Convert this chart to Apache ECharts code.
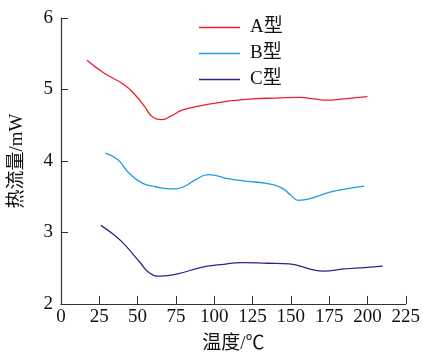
<!DOCTYPE html>
<html>
<head>
<meta charset="utf-8">
<title></title>
<script src="https://cdn.jsdelivr.net/npm/echarts@6/dist/echarts.min.js"></script>
<style>
  html, body { margin: 0; padding: 0; background: #fff; }
  #container { width: 423px; height: 359px; }
</style>
</head>
<body>
<div id="container"></div>
<script>
    // 温度 (℃) / 热流量 (mW)
    var tempA = [17, 28, 41, 49, 55, 59, 66, 72, 79, 93, 104, 110, 125, 140, 156, 165, 173, 185, 200];
    var heatA = [5.41, 5.23, 5.07, 4.91, 4.75, 4.63, 4.58, 4.63, 4.71, 4.78, 4.82, 4.84, 4.87, 4.88, 4.89, 4.87, 4.85, 4.87, 4.90];

    var tempB = [29, 37, 44, 53, 62, 72, 80, 88, 96, 110, 120, 136, 145, 150, 155, 162, 175, 186, 198];
    var heatB = [4.11, 4.02, 3.84, 3.69, 3.64, 3.61, 3.64, 3.74, 3.81, 3.75, 3.72, 3.68, 3.61, 3.52, 3.45, 3.47, 3.56, 3.61, 3.65];

    var tempC = [26, 35, 42, 52, 58, 65, 76, 91, 104, 118, 135, 149, 156, 164, 171, 185, 198, 210];
    var heatC = [3.10, 2.96, 2.82, 2.57, 2.43, 2.39, 2.42, 2.51, 2.55, 2.58, 2.57, 2.56, 2.53, 2.48, 2.46, 2.49, 2.51, 2.53];

    var names = ['A型', 'B型', 'C型'];
    var colors = ['#e8212b', '#1c9fdc', '#28288c'];

    function pairs(xs, ys) {
        var out = [];
        for (let i = 0; i < xs.length; i++) {
            out.push([xs[i], ys[i]]);
        }
        return out;
    }

    var font = '"Liberation Serif", "Times New Roman", "Noto Sans CJK SC", serif';
    var txt = '#111';
    var dom = document.getElementById('container');
    var myChart = echarts.init(dom, null, { renderer: 'canvas' });

    var option = {
        animation: false,
        textStyle: { fontFamily: font },
        grid: { left: 60, right: 16, top: 18, bottom: 53 },
        legend: {
            orient: 'vertical',
            left: 194,
            top: 13,
            icon: 'rect',
            itemWidth: 41,
            itemHeight: 1.5,
            itemGap: 7,
            textStyle: { fontFamily: font, fontSize: 19, color: txt, lineHeight: 19, padding: [0, 0, 0, 5] },
            data: names
        },
        xAxis: {
            type: 'value',
            min: 0,
            max: 225,
            interval: 25,
            name: '温度/℃',
            nameLocation: 'middle',
            nameGap: 31,
            nameTextStyle: { fontFamily: font, fontSize: 19, color: txt },
            splitLine: { show: false },
            axisLine: { lineStyle: { color: '#333', width: 1.2 } },
            axisTick: { inside: true, length: 8, lineStyle: { color: '#333' } },
            axisLabel: { fontFamily: font, fontSize: 19, color: txt, margin: 4 }
        },
        yAxis: {
            type: 'value',
            min: 2,
            max: 6,
            interval: 1,
            name: '热流量/mW',
            nameLocation: 'middle',
            nameGap: 34,
            nameTextStyle: { fontFamily: font, fontSize: 19, color: txt },
            splitLine: { show: false },
            axisLine: { show: true, lineStyle: { color: '#333', width: 1.2 } },
            axisTick: { show: true, inside: true, length: 7, lineStyle: { color: '#333' } },
            axisLabel: { fontFamily: font, fontSize: 19, color: txt, margin: 8 }
        },
        series: [
            { name: names[0], type: 'line', smooth: true, showSymbol: false, data: pairs(tempA, heatA),
              lineStyle: { color: colors[0], width: 1.3 }, itemStyle: { color: colors[0] } },
            { name: names[1], type: 'line', smooth: true, showSymbol: false, data: pairs(tempB, heatB),
              lineStyle: { color: colors[1], width: 1.3 }, itemStyle: { color: colors[1] } },
            { name: names[2], type: 'line', smooth: true, showSymbol: false, data: pairs(tempC, heatC),
              lineStyle: { color: colors[2], width: 1.3 }, itemStyle: { color: colors[2] } }
        ]
    };
    myChart.setOption(option);
</script>
</body>
</html>
